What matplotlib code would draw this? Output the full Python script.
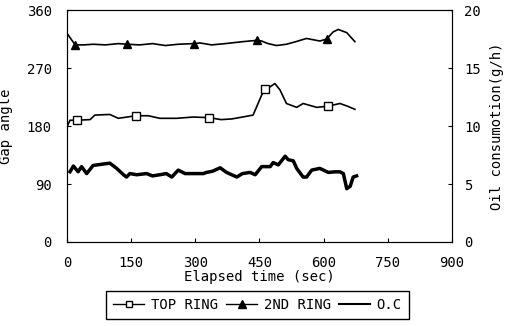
import numpy as np
import matplotlib
matplotlib.use("Agg")
import matplotlib.pyplot as plt
from matplotlib.lines import Line2D

# 2nd ring gap angle (deg)
t_2nd = [0, 19, 40, 61, 90, 120, 140, 170, 200, 230, 260, 297, 311, 338, 370, 411,
         443, 455, 470, 490, 513, 535, 560, 591, 607, 622, 634, 654, 673]
a_2nd = [324, 306, 306, 307, 306, 308, 307, 306, 308, 305, 307, 308, 309, 306, 308, 311,
         313, 312, 308, 305, 307, 311, 316, 312, 315, 326, 330, 325, 311]
mk_2nd = [19, 140, 297, 443, 607]

# top ring gap angle (deg)
t_top = [0, 7, 23, 54, 65, 100, 120, 161, 190, 217, 256, 295, 333, 360, 385, 410, 435,
         455, 463, 475, 486, 498, 513, 537, 552, 584, 611, 638, 655, 673]
a_top = [179, 189, 189, 190, 197, 198, 192, 196, 196, 192, 192, 194, 193, 190, 191, 194, 197,
         228, 237, 241, 246, 236, 215, 209, 215, 209, 211, 215, 211, 206]
mk_top = [23, 161, 333, 463, 611]

# oil consumption (g/h)
t_oc = [7, 15, 26, 34, 46, 61, 80, 100, 116, 132, 139, 147, 163, 186, 200, 217, 232, 245,
        260, 276, 295, 319, 326, 340, 358, 373, 397, 410, 428, 440, 455, 475, 482, 494,
        510, 517, 529, 537, 552, 560, 572, 591, 611, 626, 638, 646, 654, 662, 669, 677]
oc = [6.06, 6.55, 6.06, 6.5, 5.9, 6.6, 6.7, 6.8, 6.35, 5.8, 5.6, 5.9, 5.8, 5.9, 5.7, 5.8, 5.9, 5.6,
      6.2, 5.9, 5.9, 5.9, 6.0, 6.1, 6.4, 6.0, 5.6, 5.9, 6.0, 5.8, 6.5, 6.5, 6.85, 6.65,
      7.4, 7.1, 7.0, 6.35, 5.6, 5.6, 6.2, 6.35, 6.0, 6.05, 6.05, 5.9, 4.6, 4.8, 5.6, 5.7]

plt.rcParams['font.family'] = 'DejaVu Sans Mono'
plt.rcParams['font.size'] = 10

fig = plt.figure(figsize=(5.05, 3.26), dpi=100)
ax = fig.add_axes([0.1327, 0.2577, 0.7623, 0.7113])
ax2 = ax.twinx()

idx_top = [t_top.index(m) for m in mk_top]
idx_2nd = [t_2nd.index(m) for m in mk_2nd]
ax.plot(t_top, a_top, color='k', lw=1.2, marker='s', markersize=5.5,
        markerfacecolor='white', markeredgecolor='k', markevery=idx_top)
ax.plot(t_2nd, a_2nd, color='k', lw=1.2, marker='^', markersize=6,
        markerfacecolor='k', markevery=idx_2nd)
ax2.plot(t_oc, oc, color='k', lw=2.5)

ax.set_xlim(0, 900)
ax.set_ylim(0, 360)
ax2.set_ylim(0, 20)
ax.set_xticks([0, 150, 300, 450, 600, 750, 900])
ax.set_yticks([0, 90, 180, 270, 360])
ax2.set_yticks([0, 5, 10, 15, 20])
ax.tick_params(direction='in', length=3, pad=11)
ax.tick_params(axis='x', pad=10)
ax2.tick_params(direction='in', length=3, pad=9)
ax.set_xlabel('Elapsed time (sec)', labelpad=0)
ax.set_ylabel('Gap angle', labelpad=10)
ax2.set_ylabel('Oil consumotion(g/h)', labelpad=6)

handles = [
    Line2D([], [], color='k', lw=1.0, marker='s', markersize=5, markerfacecolor='white'),
    Line2D([], [], color='k', lw=1.0, marker='^', markersize=6, markerfacecolor='k'),
    Line2D([], [], color='k', lw=1.5),
]
leg = fig.legend(handles, ['TOP RING', '2ND RING', 'O.C'], ncol=3, loc='lower center',
                 bbox_to_anchor=(0.51, 0.0), handlelength=2.2, handletextpad=0.5,
                 columnspacing=0.6, fancybox=False, edgecolor='k', borderpad=0.5,
                 framealpha=1)
leg.get_frame().set_linewidth(1.0)

fig.savefig('out.png', dpi=100)
